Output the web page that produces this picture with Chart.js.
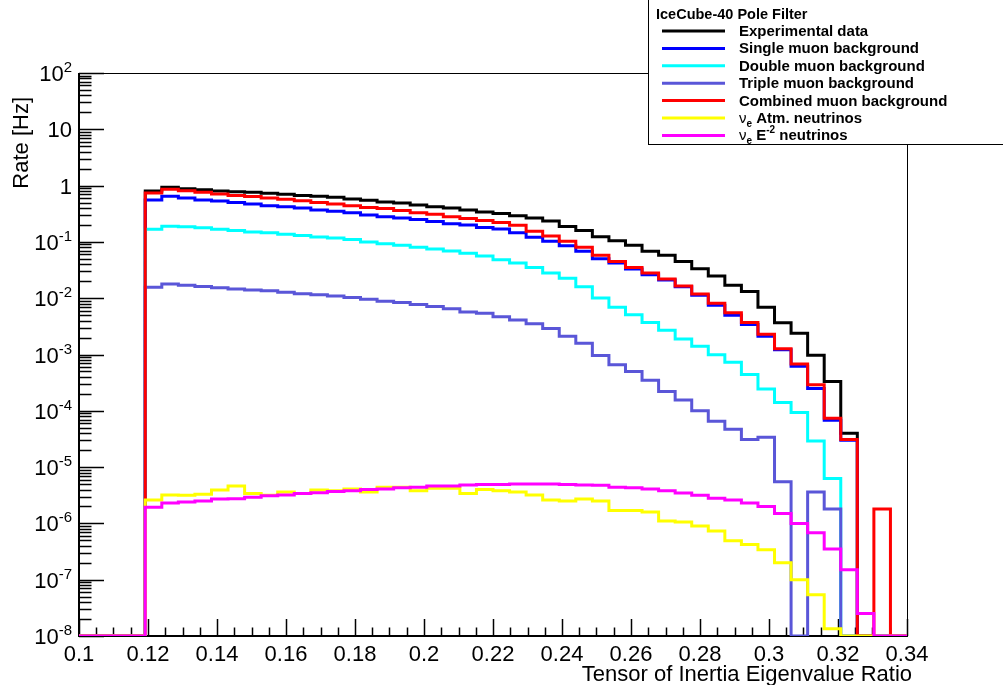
<!DOCTYPE html>
<html>
<head>
<meta charset="utf-8">
<script src="https://cdn.jsdelivr.net/npm/chart.js@4.4.0/dist/chart.umd.min.js"></script>
<style>
  html, body { margin: 0; padding: 0; background: #fff; }
  #wrap { width: 1003px; height: 685px; position: relative; }
</style>
</head>
<body>
<div id="wrap"><canvas id="chart" width="1003" height="685"></canvas></div>
<script>
// histogram binning: 50 bins of 0.0048 between 0.1 and 0.34
const BIN_LO = 0.1;
const BIN_WIDTH = 0.0048;
const N_BINS = 50;
const Y_MIN = 1e-8;
const Y_MAX = 100;

const X_TICK_LABELS = ["0.1", "0.12", "0.14", "0.16", "0.18", "0.2", "0.22", "0.24", "0.26", "0.28", "0.3", "0.32", "0.34"];
const Y_EXPONENTS = [-8, -7, -6, -5, -4, -3, -2, -1, 0, 1, 2];

// bin contents (Hz), one value per bin, 0 = empty bin
const experimental = [0, 0, 0, 0,
  0.80, 0.93, 0.88, 0.84, 0.80, 0.78, 0.76, 0.73, 0.70, 0.67,
  0.65, 0.62, 0.58, 0.55, 0.51, 0.49, 0.45, 0.42, 0.40, 0.37,
  0.34, 0.32, 0.29, 0.265, 0.235, 0.188, 0.16, 0.124, 0.105, 0.087,
  0.068, 0.058, 0.045, 0.0334, 0.0248, 0.0169, 0.0132, 0.0069, 0.00367, 0.00238,
  0.00097, 3.3e-4, 4.0e-5, 0, 0, 0];

const singleMuon = [0, 0, 0, 0,
  0.555, 0.65, 0.60, 0.555, 0.53, 0.50, 0.47, 0.44, 0.42, 0.40,
  0.37, 0.35, 0.33, 0.30, 0.28, 0.265, 0.25, 0.23, 0.21, 0.20,
  0.18, 0.17, 0.145, 0.121, 0.103, 0.085, 0.068, 0.050, 0.042, 0.033,
  0.026, 0.021, 0.016, 0.0113, 0.0075, 0.0050, 0.0034, 0.0021, 0.00122, 6.2e-4,
  2.5e-4, 6.8e-5, 3.0e-5, 0, 0, 0];

const doubleMuon = [0, 0, 0, 0,
  0.167, 0.19, 0.185, 0.178, 0.167, 0.16, 0.15, 0.145, 0.137, 0.13,
  0.122, 0.117, 0.11, 0.10, 0.093, 0.087, 0.080, 0.075, 0.069, 0.063,
  0.056, 0.048, 0.042, 0.035, 0.028, 0.0225, 0.016, 0.0101, 0.0069, 0.0051,
  0.0037, 0.0027, 0.00188, 0.0014, 9.9e-4, 7.3e-4, 4.4e-4, 2.45e-4, 1.4e-4, 9.3e-5,
  2.9e-5, 6.3e-6, 0, 0, 0, 0];

const tripleMuon = [0, 0, 0, 0,
  0.0156, 0.0178, 0.0169, 0.0161, 0.0153, 0.0145, 0.0140, 0.0136, 0.0128, 0.0120,
  0.0115, 0.0109, 0.0103, 0.0096, 0.0088, 0.0084, 0.0077, 0.0071, 0.0065, 0.0057,
  0.0054, 0.0047, 0.0041, 0.0035, 0.0029, 0.0021, 0.00158, 9.6e-4, 6.6e-4, 5.0e-4,
  3.5e-4, 2.2e-4, 1.55e-4, 1.0e-4, 6.5e-5, 4.7e-5, 3.1e-5, 3.4e-5, 5.5e-6, 0,
  3.6e-6, 1.8e-6, 0, 0, 0, 0];

const combinedMuon = [0, 0, 0, 0,
  0.74, 0.86, 0.81, 0.76, 0.71, 0.67, 0.64, 0.60, 0.57, 0.54,
  0.50, 0.47, 0.44, 0.41, 0.39, 0.36, 0.33, 0.31, 0.28, 0.26,
  0.24, 0.22, 0.197, 0.155, 0.127, 0.103, 0.080, 0.058, 0.045, 0.035,
  0.028, 0.022, 0.0165, 0.0119, 0.0081, 0.0055, 0.0037, 0.0023, 0.00127, 6.8e-4,
  2.9e-4, 7.4e-5, 3.1e-5, 0, 1.8e-6, 0];

const nueAtm = [0, 0, 0, 0,
  2.6e-6, 3.2e-6, 3.15e-6, 3.3e-6, 3.9e-6, 4.6e-6, 3.4e-6, 3.15e-6, 3.6e-6, 3.4e-6,
  3.9e-6, 3.8e-6, 4.1e-6, 3.6e-6, 4.4e-6, 4.4e-6, 3.8e-6, 4.2e-6, 4.2e-6, 3.4e-6,
  4.0e-6, 3.8e-6, 3.6e-6, 3.2e-6, 2.6e-6, 2.5e-6, 2.7e-6, 2.5e-6, 1.7e-6, 1.7e-6,
  1.6e-6, 1.1e-6, 1.06e-6, 9.0e-7, 7.3e-7, 4.9e-7, 4.2e-7, 3.4e-7, 2.0e-7, 1.0e-7,
  5.4e-8, 1.35e-8, 0, 0, 0, 0];

const nueE2 = [0, 0, 0, 0,
  1.93e-6, 2.3e-6, 2.4e-6, 2.5e-6, 2.7e-6, 2.75e-6, 2.9e-6, 3.1e-6, 3.2e-6, 3.4e-6,
  3.5e-6, 3.7e-6, 3.8e-6, 4.0e-6, 4.1e-6, 4.3e-6, 4.4e-6, 4.6e-6, 4.6e-6, 4.8e-6,
  4.9e-6, 4.9e-6, 5.0e-6, 5.0e-6, 5.0e-6, 4.9e-6, 4.8e-6, 4.75e-6, 4.4e-6, 4.3e-6,
  4.1e-6, 3.8e-6, 3.45e-6, 3.15e-6, 2.8e-6, 2.6e-6, 2.3e-6, 2.0e-6, 1.5e-6, 1.0e-6,
  6.8e-7, 3.5e-7, 1.5e-7, 2.5e-8, 0, 0];

const FONT = '"Liberation Sans", Arial, Helvetica, sans-serif';

// legend entries: label pieces [text, style], style: b = bold, n = normal, sub, sup
const SERIES = [
  { data: experimental, color: "#000000", label: [["Experimental data", "b"]] },
  { data: singleMuon, color: "#0000ff", label: [["Single muon background", "b"]] },
  { data: doubleMuon, color: "#00ffff", label: [["Double muon background", "b"]] },
  { data: tripleMuon, color: "#5a56d8", label: [["Triple muon background", "b"]] },
  { data: combinedMuon, color: "#ff0000", label: [["Combined muon background", "b"]] },
  { data: nueAtm, color: "#ffff00", label: [["\u03bd", "n"], ["e", "sub"], [" Atm. neutrinos", "b"]] },
  { data: nueE2, color: "#ff00ff", label: [["\u03bd", "n"], ["e", "sub"], [" E", "b"], ["-2", "sup"], [" neutrinos", "b"]] }
];

// one point per bin low edge + closing point at the upper edge
function toSteps(values) {
  const pts = values.map((v, i) => ({ x: BIN_LO + i * BIN_WIDTH, y: v > 0 ? v : Y_MIN }));
  pts.push({ x: BIN_LO + N_BINS * BIN_WIDTH, y: pts[pts.length - 1].y });
  return pts;
}

const rootAxes = {
  id: "rootAxes",
  beforeDatasetsDraw(chart) {
    const { ctx, chartArea: a, scales: { x, y } } = chart;
    ctx.save();
    ctx.strokeStyle = "#000";
    ctx.lineWidth = 1;
    ctx.strokeRect(a.left + 0.5, a.top + 0.5, a.right - a.left, a.bottom - a.top);

    // x ticks: major every 0.02, minor every 0.005
    ctx.lineWidth = 1.5;
    ctx.beginPath();
    for (let k = 0; k <= 48; k++) {
      const px = Math.round(x.getPixelForValue(0.1 + k * 0.005)) + 0.5;
      const len = k % 4 === 0 ? 17 : 8.5;
      ctx.moveTo(px, a.bottom);
      ctx.lineTo(px, a.bottom - len);
    }
    // y ticks: decades + 2..9 minors
    Y_EXPONENTS.forEach(e => {
      const py = Math.round(y.getPixelForValue(Math.pow(10, e))) + 0.5;
      ctx.moveTo(a.left, py);
      ctx.lineTo(a.left + 25, py);
      if (e < 2) {
        for (let m = 2; m <= 9; m++) {
          const pm = Math.round(y.getPixelForValue(m * Math.pow(10, e))) + 0.5;
          ctx.moveTo(a.left, pm);
          ctx.lineTo(a.left + 12.5, pm);
        }
      }
    });
    ctx.stroke();

    // axis lines
    ctx.lineWidth = 2;
    ctx.beginPath();
    ctx.moveTo(a.left, a.top);
    ctx.lineTo(a.left, a.bottom);
    ctx.lineTo(a.right, a.bottom);
    ctx.stroke();

    // x tick labels
    ctx.fillStyle = "#000";
    ctx.font = "22px " + FONT;
    ctx.textAlign = "center";
    ctx.textBaseline = "alphabetic";
    X_TICK_LABELS.forEach(t => {
      ctx.fillText(t, x.getPixelForValue(parseFloat(t)), 661);
    });

    // y tick labels with superscript exponents
    Y_EXPONENTS.forEach(e => {
      const py = y.getPixelForValue(Math.pow(10, e));
      const right = 72;
      ctx.textAlign = "left";
      if (e === 0 || e === 1) {
        ctx.font = "22px " + FONT;
        const t = e === 0 ? "1" : "10";
        ctx.fillText(t, right - ctx.measureText(t).width, py + 8);
      } else {
        ctx.font = "15px " + FONT;
        const sup = String(e);
        const sw = ctx.measureText(sup).width;
        ctx.font = "22px " + FONT;
        const bw = ctx.measureText("10").width;
        const x0 = right - sw - bw;
        ctx.fillText("10", x0, py + 8);
        ctx.font = "15px " + FONT;
        ctx.fillText(sup, x0 + bw, py - 1);
      }
    });

    // axis titles
    ctx.font = "22px " + FONT;
    ctx.textAlign = "right";
    ctx.fillText("Tensor of Inertia Eigenvalue Ratio", 912, 681);
    ctx.save();
    ctx.translate(28, 97);
    ctx.rotate(-Math.PI / 2);
    ctx.fillText("Rate [Hz]", 0, 0);
    ctx.restore();
    ctx.restore();
  },
  afterDraw(chart) {
    const ctx = chart.ctx;
    ctx.save();
    ctx.fillStyle = "#fff";
    ctx.fillRect(648, -5, 400, 149.5);
    ctx.strokeStyle = "#000";
    ctx.lineWidth = 1;
    ctx.strokeRect(648.5, -5, 400, 149.5);

    ctx.fillStyle = "#000";
    ctx.textAlign = "left";
    ctx.textBaseline = "alphabetic";
    ctx.font = "bold 14.5px " + FONT;
    ctx.fillText("IceCube-40 Pole Filter", 656, 18.5);

    SERIES.forEach((s, i) => {
      const ly = 31 + i * 17.4;
      ctx.strokeStyle = s.color;
      ctx.lineWidth = 3;
      ctx.beginPath();
      ctx.moveTo(662, ly);
      ctx.lineTo(725, ly);
      ctx.stroke();

      let tx = 739;
      const base = ly + 5;
      s.label.forEach(([text, style]) => {
        let dy = 0;
        if (style === "b") ctx.font = "bold 15px " + FONT;
        else if (style === "n") ctx.font = "15px " + FONT;
        else if (style === "sub") { ctx.font = "bold 10px " + FONT; dy = 4; }
        else if (style === "sup") { ctx.font = "bold 10px " + FONT; dy = -7; }
        ctx.fillText(text, tx, base + dy);
        tx += ctx.measureText(text).width;
      });
    });
    ctx.restore();
  }
};

// draw order as in the original: later entries on top
const datasets = SERIES.map((s, i) => ({
  label: s.label.map(p => p[0]).join(""),
  data: toSteps(s.data),
  borderColor: s.color,
  backgroundColor: s.color,
  borderWidth: 3,
  stepped: "before",
  pointRadius: 0,
  fill: false,
  tension: 0,
  order: SERIES.length - i
}));

new Chart(document.getElementById("chart"), {
  type: "line",
  data: { datasets },
  options: {
    responsive: false,
    animation: false,
    devicePixelRatio: 1,
    layout: { padding: { left: 79, right: 96, top: 73, bottom: 49 } },
    plugins: { legend: { display: false }, tooltip: { enabled: false } },
    scales: {
      x: { type: "linear", min: 0.1, max: 0.34, display: false },
      y: { type: "logarithmic", min: Y_MIN, max: Y_MAX, display: false }
    }
  },
  plugins: [rootAxes]
});
</script>
</body>
</html>
